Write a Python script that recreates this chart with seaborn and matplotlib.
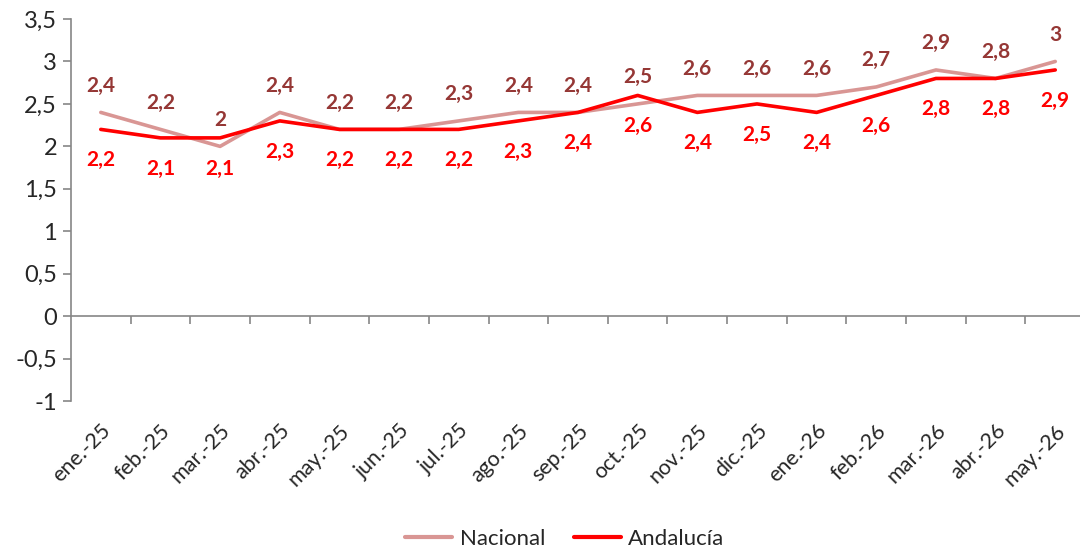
"""
Evolucion mensual: Nacional vs Andalucia (ene.-25 a may.-26).
"""
import numpy as np
import pandas as pd
import seaborn as sns
import matplotlib.pyplot as plt
from matplotlib.ticker import FuncFormatter, FixedLocator

MONTHS = ["ene.-25", "feb.-25", "mar.-25", "abr.-25", "may.-25", "jun.-25",
          "jul.-25", "ago.-25", "sep.-25", "oct.-25", "nov.-25", "dic.-25",
          "ene.-26", "feb.-26", "mar.-26", "abr.-26", "may.-26"]
NACIONAL = [2.4, 2.2, 2.0, 2.4, 2.2, 2.2, 2.3, 2.4, 2.4, 2.5, 2.6, 2.6,
            2.6, 2.7, 2.9, 2.8, 3.0]
ANDALUCIA = [2.2, 2.1, 2.1, 2.3, 2.2, 2.2, 2.2, 2.3, 2.4, 2.6, 2.4, 2.5,
             2.4, 2.6, 2.8, 2.8, 2.9]
Y_TICKS = [-1, -0.5, 0, 0.5, 1, 1.5, 2, 2.5, 3, 3.5]

NAC_COLOR = "#D99694"
NAC_LABEL = "#953735"
AND_COLOR = "#FF0000"
AXIS_COLOR = "#868686"
TEXT_COLOR = "#262626"


def fmt(v):
    s = "{:g}".format(v)
    return s.replace(".", ",")


def main():
    sns.set_style("white")
    plt.rcParams["font.family"] = ["Lato", "DejaVu Sans"]

    df = pd.DataFrame({"x": np.arange(len(MONTHS)),
                       "Nacional": NACIONAL, "Andalucía": ANDALUCIA})

    fig = plt.figure(figsize=(10.8, 5.51), dpi=100)
    # axes run slightly past the right edge, as in the original
    ax = fig.add_axes([0.0657, 0.272, 0.939, 0.6935])

    sns.lineplot(data=df, x="x", y="Nacional", color=NAC_COLOR, linewidth=2.6,
                 label="Nacional", ax=ax)
    sns.lineplot(data=df, x="x", y="Andalucía", color=AND_COLOR, linewidth=2.6,
                 label="Andalucía", ax=ax)

    for i, (n, a) in enumerate(zip(NACIONAL, ANDALUCIA)):
        ax.annotate(fmt(n), (i, n), xytext=(0, 12), textcoords="offset points",
                    ha="center", va="bottom", fontsize=15, fontweight="bold",
                    color=NAC_LABEL)
        ax.annotate(fmt(a), (i, a), xytext=(0, -15), textcoords="offset points",
                    ha="center", va="top", fontsize=15, fontweight="bold",
                    color=AND_COLOR)

    ymin, ymax = -1, 3.5
    ax.set_ylim(ymin, ymax)
    ax.set_xlim(-0.5, len(MONTHS) - 0.5)
    ax.set_yticks(Y_TICKS)
    ax.yaxis.set_major_formatter(FuncFormatter(lambda v, p: fmt(v)))
    ax.set_xticks(np.arange(len(MONTHS)))
    ax.set_xticklabels(MONTHS, rotation=45, ha="right", rotation_mode="anchor")
    ax.set_xlabel("")
    ax.set_ylabel("")

    for side in ["top", "right", "bottom"]:
        ax.spines[side].set_visible(False)
    ax.spines["left"].set_color(AXIS_COLOR)
    ax.spines["left"].set_linewidth(1.2)
    ax.tick_params(axis="y", left=True, length=6, width=1.2, color=AXIS_COLOR,
                   labelsize=17, pad=4, labelcolor=TEXT_COLOR)
    ax.tick_params(axis="x", bottom=False, length=0, labelsize=15.5, pad=14,
                   labelcolor=TEXT_COLOR)

    # category axis crossing at zero, with ticks between categories
    sec = ax.secondary_xaxis((0 - ymin) / (ymax - ymin))
    sec.spines["bottom"].set_color(AXIS_COLOR)
    sec.spines["bottom"].set_linewidth(1.2)
    sec.xaxis.set_major_locator(FixedLocator(np.arange(len(MONTHS)) + 0.5))
    sec.tick_params(axis="x", length=6, width=1.2, color=AXIS_COLOR,
                    labelbottom=False)

    leg = ax.legend(loc="center", bbox_to_anchor=(0.487, -0.36), ncol=2,
                    frameon=False, fontsize=16, handlelength=2.1,
                    columnspacing=1.3, handletextpad=0.35,
                    labelcolor=TEXT_COLOR)
    for line in leg.get_lines():
        line.set_linewidth(3)

    fig.savefig("out.png", dpi=100)


if __name__ == "__main__":
    main()
